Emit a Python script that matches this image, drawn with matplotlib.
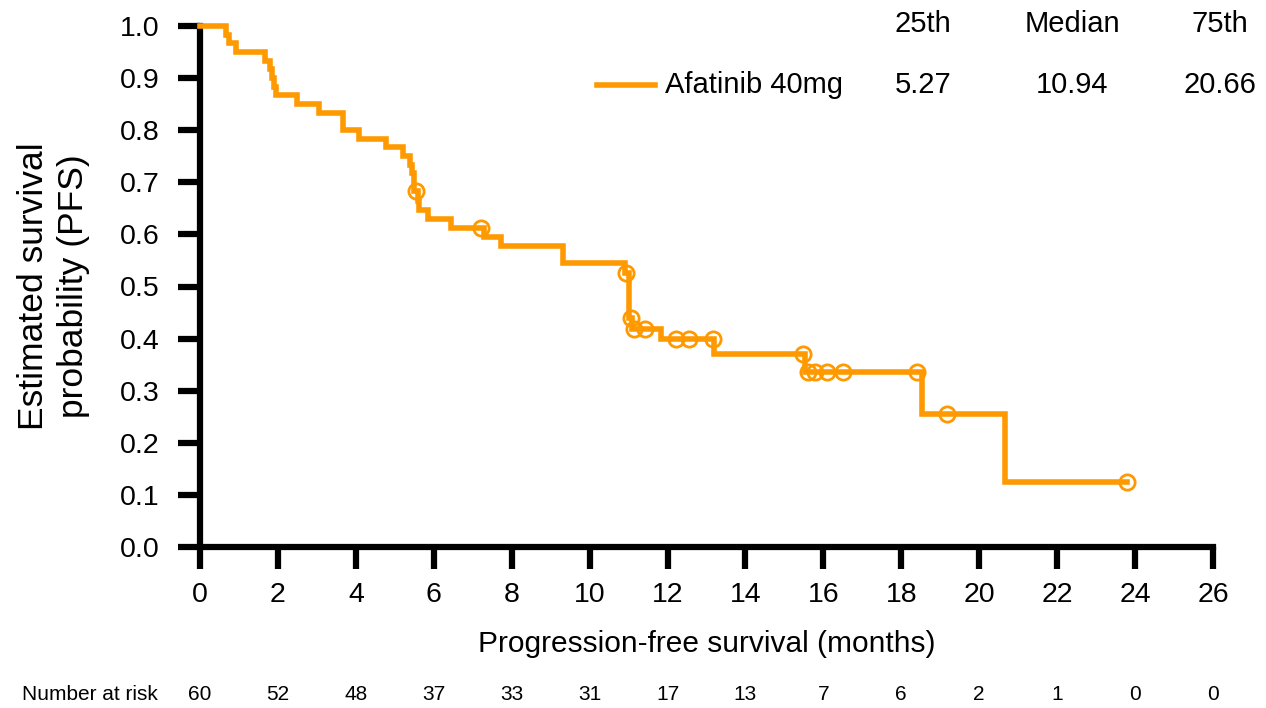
import matplotlib
matplotlib.use("Agg")
import matplotlib.pyplot as plt
import numpy as np

plt.rcParams['font.family'] = ['Liberation Sans', 'DejaVu Sans']

# Kaplan-Meier step function: event times and survival after each drop
event_times = [0.0, 0.66, 0.75, 0.92, 1.67, 1.80, 1.86, 1.91, 1.95, 2.48, 3.06,
               3.66, 4.09, 4.77, 5.22, 5.38, 5.43, 5.48, 5.50, 5.60, 5.63, 5.84,
               6.44, 7.30, 7.73, 9.31, 10.90, 11.00, 11.10, 11.84, 13.20,
               15.52, 18.54, 20.66]
survival = [1.0, 0.983, 0.967, 0.950, 0.933, 0.917, 0.900, 0.883, 0.867, 0.850, 0.833,
            0.800, 0.783, 0.767, 0.750, 0.733, 0.717, 0.700, 0.683, 0.665, 0.647, 0.630,
            0.613, 0.595, 0.578, 0.545, 0.525, 0.440, 0.418, 0.400, 0.370,
            0.336, 0.256, 0.125]
end_time = 23.78
censor_times = [5.55, 7.21, 10.94, 11.07, 11.15, 11.41, 12.22, 12.56, 13.16,
                15.48, 15.60, 15.78, 16.08, 16.50, 18.39, 19.16, 23.78]

risk_times = list(range(0, 27, 2))
at_risk = [60, 52, 48, 37, 33, 31, 17, 13, 7, 6, 2, 1, 0, 0]

group_name = "Afatinib 40mg"
quantile_headers = ["25th", "Median", "75th"]
quantile_values = ["5.27", "10.94", "20.66"]

color = "#FF9900"
W, H = 1266, 708

fig = plt.figure(figsize=(W/100, H/100), dpi=100)
ax = fig.add_axes([200/W, 1 - 547/H, (1213-200)/W, (547-26)/H])

xs = event_times + [end_time]
ys = survival + [survival[-1]]
ax.step(xs, ys, where='post', color=color, lw=4, solid_joinstyle='miter',
        zorder=3, clip_on=False)

def surv_at(t):
    idx = np.searchsorted(np.array(event_times), t, side='right') - 1
    return survival[idx]

cy = [surv_at(t) for t in censor_times]
ax.plot(censor_times, cy, linestyle='none', marker='o', ms=11, mfc='none',
        mec=color, mew=2, zorder=4, clip_on=False)

ax.set_xlim(0, 26)
ax.set_ylim(0, 1.0)
ax.set_xticks(risk_times)
ax.set_yticks(np.round(np.arange(0, 1.01, 0.1), 1))
ax.set_yticklabels([f"{v:.1f}" for v in np.arange(0, 1.01, 0.1)])
for s in ['top', 'right']:
    ax.spines[s].set_visible(False)
for s in ['left', 'bottom']:
    ax.spines[s].set_linewidth(4.5)
ax.tick_params(axis='both', width=4.5, length=16, labelsize=20.5, direction='out')
ax.tick_params(axis='y', pad=13)
ax.tick_params(axis='x', pad=9)

ax.set_xlabel("Progression-free survival (months)", fontsize=21.5)
ax.xaxis.set_label_coords(0.5, -(630 - 547) / 521)
ax.set_ylabel("Estimated survival\nprobability (PFS)", fontsize=25.5, linespacing=1.25)
ax.yaxis.set_label_coords(-(200 - 90) / 1013, 0.5)

# Number at risk row
fig.text(22/W, 1 - 700/H, "Number at risk", fontsize=15, ha='left', va='baseline')
for t, n in zip(risk_times, at_risk):
    xf = ax.transData.transform((t, 0))[0] / fig.bbox.width
    fig.text(xf, 1 - 700/H, str(n), fontsize=15, ha='center', va='baseline')

# Legend / quantile table
hx = [923, 1072, 1220]
for x, h in zip(hx, quantile_headers):
    fig.text(x/W, 1 - 32/H, h, fontsize=21, ha='center', va='baseline')
for x, v in zip(hx, quantile_values):
    fig.text(x/W, 1 - 93/H, v, fontsize=21, ha='center', va='baseline')
fig.add_artist(plt.Line2D([597/W, 655/W], [1 - 85/H, 1 - 85/H],
                          color=color, lw=4, transform=fig.transFigure))
fig.text(665/W, 1 - 93/H, group_name, fontsize=21, ha='left', va='baseline')

fig.savefig("out.png", dpi=100)
